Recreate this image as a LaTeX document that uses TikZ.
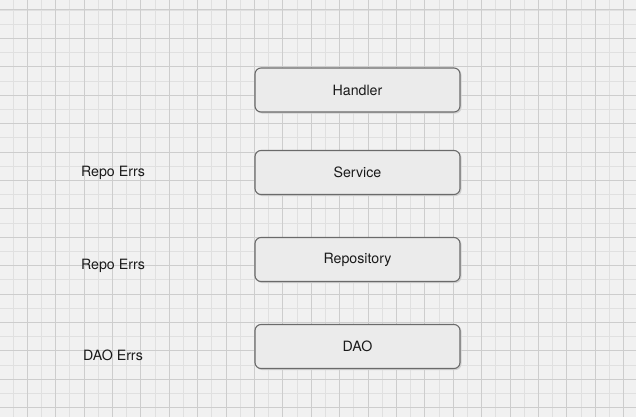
\documentclass[tikz,border=0pt]{standalone}
\usepackage{fontspec}
\setmainfont{TeX Gyre Heros}
\definecolor{bgc}{HTML}{F1F1F1}
\definecolor{minorc}{HTML}{E0E0E0}
\definecolor{majorc}{HTML}{CDCDCD}
\definecolor{boxfill}{HTML}{EBEBEB}
\definecolor{boxline}{HTML}{6A6A6A}
\definecolor{txt}{HTML}{1A1A1A}
\tikzset{
  layerbox/.style={draw=boxline, line width=1.1pt, fill=boxfill, rounded corners=6pt,
    minimum width=205pt, minimum height=44pt, inner sep=0pt,
    font=\fontsize{14.2}{16}\selectfont, text=txt},
  errlabel/.style={font=\fontsize{14.2}{16}\selectfont, text=txt, inner sep=0pt},
  boxshadow/.style={fill=black!18, rounded corners=6pt}
}
\begin{document}
\begin{tikzpicture}[x=1pt,y=-1pt]
\useasboundingbox (0,0) rectangle (636,417);
\fill[bgc] (0,0) rectangle (636,417);
% minor grid
\foreach \i in {0,...,45} {
  \draw[minorc, line width=0.8pt] ({13+14.2*\i},0) -- ({13+14.2*\i},417);
}
\foreach \j in {0,...,29} {
  \draw[minorc, line width=0.8pt] (0,{-4.2+14.2*\j}) -- (636,{-4.2+14.2*\j});
}
% major grid
\foreach \i in {0,...,22} {
  \draw[majorc, line width=1pt] ({27.2+28.4*\i},0) -- ({27.2+28.4*\i},417);
}
\foreach \j in {0,...,14} {
  \draw[majorc, line width=1pt] (0,{10+28.4*\j}) -- (636,{10+28.4*\j});
}
% shadows
\foreach \cy in {90,172.5,259.5,346.5} {
  \fill[boxshadow] (256,{\cy-21}) rectangle (461.5,{\cy+23.5});
}
% boxes
\node[layerbox] (handler) at (357.5,90) {Handler};
\node[layerbox] (service) at (357.5,172.5) {Service};
\node[layerbox] (repo) at (357.5,259.5) {Repository};
\node[layerbox] (dao) at (357.5,346.5) {DAO};
% labels
\node[errlabel] (err1) at (113,172.5) {Repo Errs};
\node[errlabel] (err2) at (113,265.5) {Repo Errs};
\node[errlabel] (err3) at (113,355) {DAO Errs};
\end{tikzpicture}
\end{document}
